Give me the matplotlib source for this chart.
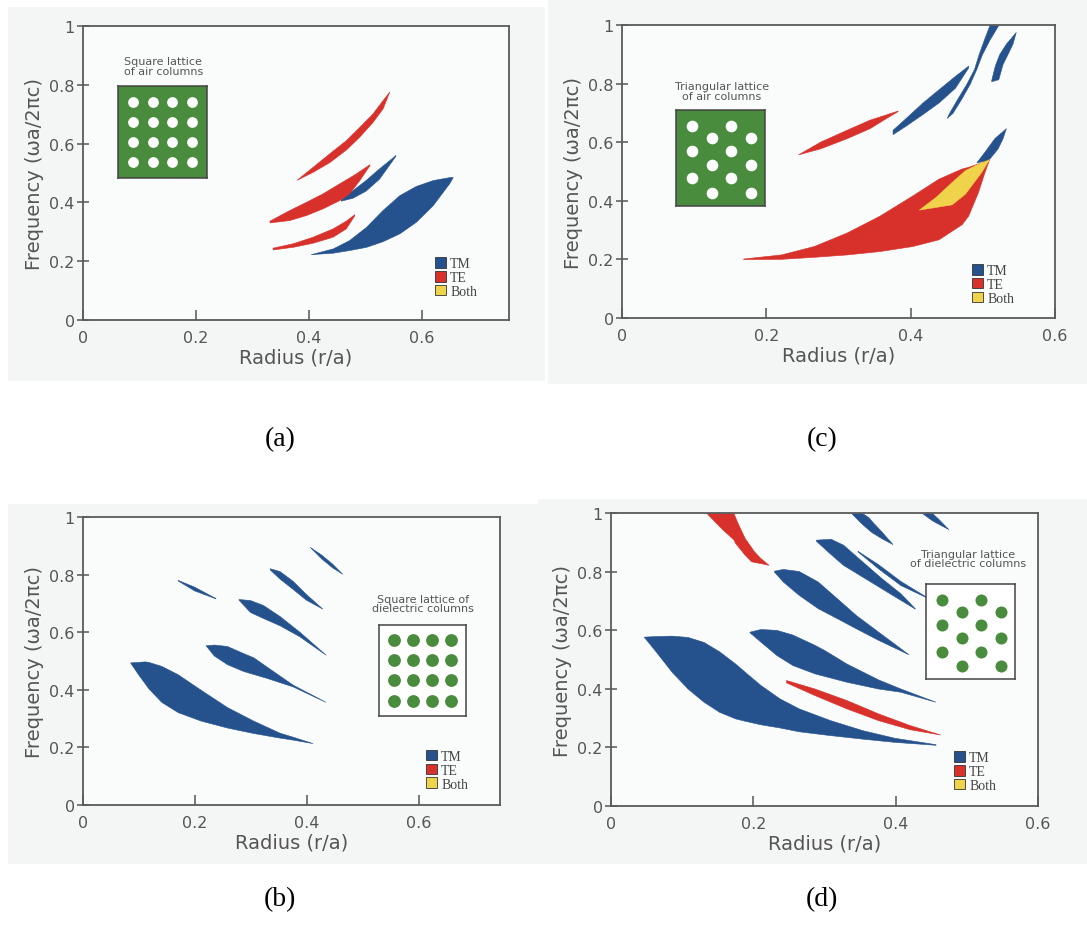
import matplotlib
matplotlib.use("Agg")
import matplotlib.pyplot as plt
from matplotlib.patches import Patch, Rectangle

TM_BLUE = "#25528d"
TE_RED = "#d8302a"
BOTH_YELLOW = "#efd34a"
LATTICE_GREEN = "#4a8c3d"
INK = "#555555"

# ---------------- (a) square lattice of air columns ----------------
A_TE_TOP_X = [0.378, 0.4063, 0.4358, 0.4653, 0.489, 0.5125, 0.5302, 0.542]
A_TE_TOP_LO = [0.477, 0.504, 0.537, 0.580, 0.624, 0.674, 0.72, 0.777]
A_TE_TOP_HI = [0.477, 0.521, 0.567, 0.612, 0.657, 0.703, 0.748, 0.777]

A_TM_MID_X = [0.456, 0.477, 0.5, 0.524, 0.553]
A_TM_MID_LO = [0.406, 0.416, 0.44, 0.481, 0.559]
A_TM_MID_HI = [0.410, 0.442, 0.476, 0.516, 0.561]

A_TE_MID_X = [0.330, 0.365, 0.3945, 0.424, 0.4535, 0.471, 0.483, 0.489, 0.507]
A_TE_MID_LO = [0.332, 0.340, 0.357, 0.380, 0.408, 0.431, 0.461, 0.476, 0.527]
A_TE_MID_HI = [0.338, 0.374, 0.402, 0.431, 0.465, 0.485, 0.499, 0.507, 0.530]

A_TE_LOW_X = [0.3355, 0.371, 0.4063, 0.4417, 0.465, 0.480]
A_TE_LOW_LO = [0.240, 0.249, 0.2628, 0.2833, 0.3116, 0.356]
A_TE_LOW_HI = [0.246, 0.261, 0.2833, 0.3116, 0.338, 0.3597]

A_TM_LOW_X = [0.403, 0.442, 0.471, 0.501, 0.530, 0.560, 0.589, 0.619, 0.648, 0.654]
A_TM_LOW_LO = [0.224, 0.229, 0.238, 0.249, 0.268, 0.295, 0.334, 0.391, 0.465, 0.485]
A_TM_LOW_HI = [0.224, 0.2435, 0.272, 0.317, 0.374, 0.425, 0.456, 0.476, 0.486, 0.487]

# ---------------- (c) triangular lattice of air columns ----------------
C_TE_BIG_X = [0.168, 0.2203, 0.2658, 0.3113, 0.3568, 0.4023, 0.4387, 0.4706, 0.4797, 0.4933, 0.5024, 0.5093]
C_TE_BIG_LO = [0.201, 0.202, 0.2089, 0.217, 0.2285, 0.2457, 0.2687, 0.32, 0.3492, 0.4297, 0.4987, 0.545]
C_TE_BIG_HI = [0.203, 0.217, 0.2457, 0.2917, 0.3492, 0.4182, 0.4757, 0.5102, 0.516, 0.5275, 0.537, 0.545]

C_BOTH_X = [0.4114, 0.4342, 0.4569, 0.4751, 0.4979, 0.5093]
C_BOTH_LO = [0.370, 0.379, 0.388, 0.424, 0.4987, 0.545]
C_BOTH_HI = [0.370, 0.4125, 0.4642, 0.5045, 0.532, 0.545]

C_TM_TIP_X = [0.491, 0.5024, 0.5093, 0.516, 0.5206, 0.5274, 0.532]
C_TM_TIP_LO = [0.531, 0.538, 0.545, 0.565, 0.5792, 0.6137, 0.648]
C_TM_TIP_HI = [0.531, 0.5677, 0.591, 0.6137, 0.6236, 0.638, 0.648]

C_TE_UP_X = [0.244, 0.2749, 0.3113, 0.3432, 0.366, 0.3819]
C_TE_UP_LO = [0.5585, 0.5792, 0.6137, 0.648, 0.6827, 0.706]
C_TE_UP_HI = [0.5585, 0.6022, 0.6425, 0.677, 0.695, 0.708]

C_TM_MID_X = [0.375, 0.3932, 0.416, 0.4387, 0.4615, 0.4797]
C_TM_MID_LO = [0.6275, 0.6567, 0.6953, 0.7355, 0.786, 0.855]
C_TM_MID_HI = [0.6425, 0.6827, 0.7345, 0.7805, 0.8265, 0.861]

# steep bands: radius given as a function of frequency
C_TM_LONG_Y = [0.683, 0.70, 0.75, 0.80, 0.85, 0.90, 0.95, 1.00]
C_TM_LONG_L = [0.4501, 0.4533, 0.4651, 0.4774, 0.4879, 0.4942, 0.5015, 0.5093]
C_TM_LONG_R = [0.4501, 0.458, 0.4706, 0.482, 0.491, 0.4988, 0.5093, 0.5215]

C_TM_RIGHT_Y = [0.809, 0.815, 0.855, 0.867, 0.901, 0.936, 0.976]
C_TM_RIGHT_L = [0.5115, 0.512, 0.516, 0.5175, 0.5229, 0.532, 0.5457]
C_TM_RIGHT_R = [0.513, 0.5215, 0.526, 0.5274, 0.5343, 0.5411, 0.5457]

# ---------------- (b) square lattice of dielectric columns ----------------
B_TM1_X = [0.084, 0.0987, 0.1104, 0.1163, 0.1398, 0.1691, 0.2102, 0.2572, 0.304, 0.351, 0.3746, 0.410]
B_TM1_LO = [0.495, 0.453, 0.422, 0.406, 0.358, 0.3225, 0.293, 0.269, 0.25, 0.234, 0.227, 0.215]
B_TM1_HI = [0.495, 0.497, 0.4986, 0.497, 0.483, 0.454, 0.40, 0.340, 0.293, 0.251, 0.237, 0.215]

B_TM2_X = [0.219, 0.2337, 0.2572, 0.2865, 0.304, 0.3276, 0.3746, 0.4333]
B_TM2_LO = [0.5545, 0.519, 0.489, 0.465, 0.455, 0.4415, 0.4117, 0.358]
B_TM2_HI = [0.5545, 0.557, 0.552, 0.527, 0.513, 0.481, 0.4177, 0.358]

B_TM3_X = [0.2777, 0.2983, 0.3218, 0.3511, 0.3863, 0.4333]
B_TM3_LO = [0.713, 0.670, 0.649, 0.624, 0.586, 0.522]
B_TM3_HI = [0.715, 0.7116, 0.694, 0.656, 0.602, 0.522]

B_TM4_X = [0.3335, 0.3511, 0.3746, 0.398, 0.4274]
B_TM4_LO = [0.818, 0.786, 0.750, 0.713, 0.682]
B_TM4_HI = [0.822, 0.812, 0.778, 0.733, 0.682]

B_TM5_X = [0.1691, 0.1985, 0.2366]
B_TM5_LO = [0.7795, 0.745, 0.7175]
B_TM5_HI = [0.7815, 0.758, 0.7185]

B_TM6_X = [0.405, 0.425, 0.445, 0.463]
B_TM6_LO = [0.896, 0.857, 0.825, 0.803]
B_TM6_HI = [0.896, 0.870, 0.838, 0.803]

# ---------------- (d) triangular lattice of dielectric columns ----------------
D_TM1_X = [0.046, 0.063, 0.0853, 0.1076, 0.130, 0.152, 0.1746, 0.188, 0.210, 0.237, 0.264, 0.308, 0.353, 0.398, 0.456]
D_TM1_LO = [0.578, 0.527, 0.458, 0.401, 0.356, 0.3215, 0.299, 0.291, 0.279, 0.268, 0.255, 0.242, 0.230, 0.219, 0.209]
D_TM1_HI = [0.578, 0.580, 0.5815, 0.577, 0.560, 0.528, 0.486, 0.458, 0.413, 0.367, 0.333, 0.293, 0.259, 0.233, 0.211]

D_TE1_X = [0.246, 0.286, 0.331, 0.3754, 0.420, 0.4625]
D_TE1_LO = [0.422, 0.3786, 0.333, 0.293, 0.262, 0.244]
D_TE1_HI = [0.430, 0.401, 0.3615, 0.316, 0.276, 0.244]

D_TM2_X = [0.1946, 0.210, 0.2326, 0.255, 0.286, 0.2996, 0.331, 0.3754, 0.4067, 0.4558]
D_TM2_LO = [0.593, 0.561, 0.515, 0.481, 0.4527, 0.444, 0.424, 0.401, 0.39, 0.356]
D_TM2_HI = [0.595, 0.604, 0.601, 0.585, 0.55, 0.5325, 0.486, 0.432, 0.401, 0.356]

D_TM3_X = [0.229, 0.2415, 0.2638, 0.2906, 0.3174, 0.344, 0.3754, 0.418]
D_TM3_LO = [0.800, 0.766, 0.7206, 0.675, 0.641, 0.6066, 0.567, 0.518]
D_TM3_HI = [0.803, 0.809, 0.802, 0.766, 0.709, 0.652, 0.595, 0.518]

D_TM4_X = [0.288, 0.3085, 0.326, 0.353, 0.380, 0.4067, 0.4268]
D_TM4_LO = [0.905, 0.86, 0.823, 0.783, 0.743, 0.7035, 0.674]
D_TM4_HI = [0.909, 0.912, 0.892, 0.8347, 0.7777, 0.726, 0.675]

D_TM5_X = [0.3464, 0.3754, 0.4067, 0.4424]
D_TM5_LO = [0.869, 0.811, 0.754, 0.713]
D_TM5_HI = [0.871, 0.825, 0.768, 0.715]

D_TM6_X = [0.3375, 0.3487, 0.353, 0.362, 0.3665, 0.380, 0.3955]
D_TM6_LO = [1.0, 0.972, 0.962, 0.943, 0.934, 0.914, 0.894]
D_TM6_HI = [1.0, 1.0, 1.0, 0.985, 0.972, 0.937, 0.894]

D_TM7_X = [0.437, 0.451, 0.46, 0.474]
D_TM7_LO = [1.0, 0.975, 0.963, 0.945]
D_TM7_HI = [1.0, 1.0, 0.98, 0.945]

D_TE2_X = [0.134, 0.157, 0.172, 0.1746, 0.179, 0.188, 0.197, 0.201, 0.210, 0.2214]
D_TE2_LO = [1.0, 0.943, 0.91, 0.897, 0.884, 0.857, 0.835, 0.833, 0.829, 0.823]
D_TE2_HI = [1.0, 1.0, 1.0, 0.985, 0.96, 0.914, 0.883, 0.869, 0.846, 0.823]

# lattice sketches (fractions of the inset box)
SQUARE_POS = [0.17, 0.39, 0.61, 0.83]
TRI_X = [0.18, 0.18, 0.18, 0.40, 0.40, 0.40, 0.62, 0.62, 0.62, 0.84, 0.84, 0.84]
TRI_Y = [0.835, 0.57, 0.29, 0.71, 0.43, 0.14, 0.835, 0.57, 0.29, 0.71, 0.43, 0.14]

X_TICKS = [0, 0.2, 0.4, 0.6]
X_TICKLABELS = ["0", "0.2", "0.4", "0.6"]
Y_TICKS = [0, 0.2, 0.4, 0.6, 0.8, 1.0]
Y_TICKLABELS = ["0", "0.2", "0.4", "0.6", "0.8", "1"]
LEGEND_LABELS = ["TM", "TE", "Both"]

SQ_X = [c for r in SQUARE_POS for c in SQUARE_POS]
SQ_Y = [r for r in SQUARE_POS for c in SQUARE_POS]

panels = {
    "a": dict(rect=[0.0764, 0.6603, 0.3919, 0.3111], xmax=0.754,
              gaps=[("x", TE_RED, A_TE_TOP_X, A_TE_TOP_LO, A_TE_TOP_HI),
                    ("x", TM_BLUE, A_TM_MID_X, A_TM_MID_LO, A_TM_MID_HI),
                    ("x", TE_RED, A_TE_MID_X, A_TE_MID_LO, A_TE_MID_HI),
                    ("x", TE_RED, A_TE_LOW_X, A_TE_LOW_LO, A_TE_LOW_HI),
                    ("x", TM_BLUE, A_TM_LOW_X, A_TM_LOW_LO, A_TM_LOW_HI)],
              inset=[0.082, 0.483, 0.209, 0.313], air=True, lattice=(SQ_X, SQ_Y), ms=60,
              label="Square lattice\nof air columns", label_xy=(0.188, 0.865),
              legend_xy=(0.826, 0.075)),
    "c": dict(rect=[0.5722, 0.6624, 0.3983, 0.3101], xmax=0.6,
              gaps=[("x", TE_RED, C_TE_BIG_X, C_TE_BIG_LO, C_TE_BIG_HI),
                    ("x", BOTH_YELLOW, C_BOTH_X, C_BOTH_LO, C_BOTH_HI),
                    ("x", TM_BLUE, C_TM_TIP_X, C_TM_TIP_LO, C_TM_TIP_HI),
                    ("x", TE_RED, C_TE_UP_X, C_TE_UP_LO, C_TE_UP_HI),
                    ("x", TM_BLUE, C_TM_MID_X, C_TM_MID_LO, C_TM_MID_HI),
                    ("y", TM_BLUE, C_TM_LONG_Y, C_TM_LONG_L, C_TM_LONG_R),
                    ("y", TM_BLUE, C_TM_RIGHT_Y, C_TM_RIGHT_L, C_TM_RIGHT_R)],
              inset=[0.125, 0.382, 0.206, 0.328], air=True, lattice=(TRI_X, TRI_Y), ms=70,
              label="Triangular lattice\nof air columns", label_xy=(0.231, 0.775),
              legend_xy=(0.808, 0.045)),
    "b": dict(rect=[0.0764, 0.1471, 0.3836, 0.3048], xmax=0.745,
              gaps=[("x", TM_BLUE, B_TM1_X, B_TM1_LO, B_TM1_HI),
                    ("x", TM_BLUE, B_TM2_X, B_TM2_LO, B_TM2_HI),
                    ("x", TM_BLUE, B_TM3_X, B_TM3_LO, B_TM3_HI),
                    ("x", TM_BLUE, B_TM4_X, B_TM4_LO, B_TM4_HI),
                    ("x", TM_BLUE, B_TM5_X, B_TM5_LO, B_TM5_HI),
                    ("x", TM_BLUE, B_TM6_X, B_TM6_LO, B_TM6_HI)],
              inset=[0.71, 0.309, 0.209, 0.316], air=False, lattice=(SQ_X, SQ_Y), ms=85,
              label="Square lattice of\ndielectric columns", label_xy=(0.815, 0.70),
              legend_xy=(0.822, 0.05)),
    "d": dict(rect=[0.5621, 0.146, 0.3928, 0.3101], xmax=0.6,
              gaps=[("x", TM_BLUE, D_TM1_X, D_TM1_LO, D_TM1_HI),
                    ("x", TE_RED, D_TE1_X, D_TE1_LO, D_TE1_HI),
                    ("x", TM_BLUE, D_TM2_X, D_TM2_LO, D_TM2_HI),
                    ("x", TM_BLUE, D_TM3_X, D_TM3_LO, D_TM3_HI),
                    ("x", TM_BLUE, D_TM4_X, D_TM4_LO, D_TM4_HI),
                    ("x", TM_BLUE, D_TM5_X, D_TM5_LO, D_TM5_HI),
                    ("x", TM_BLUE, D_TM6_X, D_TM6_LO, D_TM6_HI),
                    ("x", TM_BLUE, D_TM7_X, D_TM7_LO, D_TM7_HI),
                    ("x", TE_RED, D_TE2_X, D_TE2_LO, D_TE2_HI)],
              inset=[0.738, 0.433, 0.208, 0.324], air=False, lattice=(TRI_X, TRI_Y), ms=75,
              label="Triangular lattice\nof dielectric columns", label_xy=(0.836, 0.845),
              legend_xy=(0.803, 0.048)),
}

fig = plt.figure(figsize=(10.87, 9.45), dpi=100, facecolor="white")

# faint grey of the scanned pictures
for x0, y0, w, h in [(8, 8, 537, 374), (548, 0, 539, 385), (8, 505, 537, 360), (538, 500, 549, 365)]:
    fig.add_artist(Rectangle((x0 / 1087, 1 - (y0 + h) / 945), w / 1087, h / 945,
                             transform=fig.transFigure, facecolor="#f4f5f5",
                             edgecolor="none", zorder=0))

for key, p in panels.items():
    ax = fig.add_axes(p["rect"])
    ax.set_facecolor("#fafbfb")
    for kind, color, a, lo, hi in p["gaps"]:
        if kind == "x":
            ax.fill_between(a, lo, hi, color=color, lw=0.4, zorder=2)
        else:
            ax.fill_betweenx(a, lo, hi, color=color, lw=0.4, zorder=2)
    ax.set_xlim(0, p["xmax"])
    ax.set_ylim(0, 1)
    ax.set_xticks(X_TICKS)
    ax.set_xticklabels(X_TICKLABELS)
    ax.set_yticks(Y_TICKS)
    ax.set_yticklabels(Y_TICKLABELS)
    ax.tick_params(axis="x", direction="in", length=7, width=1.1, colors=INK, labelsize=11.5, pad=7)
    ax.tick_params(axis="y", direction="inout", length=8, width=1.1, colors=INK, labelsize=11.5, pad=2)
    for s in ax.spines.values():
        s.set_color("#5a5a5a")
        s.set_linewidth(1.3)
    ax.set_xlabel("Radius (r/a)", fontsize=14, color=INK, labelpad=2)
    ax.set_ylabel("Frequency (ωa/2πc)", fontsize=14, color=INK, labelpad=4)

    # lattice sketch
    ins = ax.inset_axes(p["inset"])
    ins.set_xlim(0, 1)
    ins.set_ylim(0, 1)
    ins.set_xticks([])
    ins.set_yticks([])
    for s in ins.spines.values():
        s.set_color("#444444")
        s.set_linewidth(1.1)
    lx, ly = p["lattice"]
    if p["air"]:
        ins.set_facecolor(LATTICE_GREEN)
        ins.scatter(lx, ly, s=p["ms"], color="white", lw=0)
    else:
        ins.set_facecolor("white")
        ins.scatter(lx, ly, s=p["ms"], color=LATTICE_GREEN, lw=0)
    ax.text(p["label_xy"][0], p["label_xy"][1], p["label"], transform=ax.transAxes,
            ha="center", va="center", fontsize=8, color=INK, linespacing=0.95)

    handles = [Patch(facecolor=c, edgecolor="#333333", lw=0.6)
               for c in (TM_BLUE, TE_RED, BOTH_YELLOW)]
    ax.legend(handles, LEGEND_LABELS, loc="lower left", bbox_to_anchor=p["legend_xy"],
              frameon=False, prop={"family": "Liberation Serif", "size": 10},
              handlelength=0.8, handleheight=0.8, handletextpad=0.3,
              labelspacing=0.05, borderpad=0, borderaxespad=0, labelcolor="#444444")

for lab, x, y in [("(a)", 280, 440), ("(c)", 822, 440), ("(b)", 280, 900), ("(d)", 822, 900)]:
    fig.text(x / 1087, 1 - y / 945, lab, ha="center", va="center",
             family="Liberation Serif", fontsize=20, color="black")

fig.savefig("out.png", dpi=100, facecolor="white")
